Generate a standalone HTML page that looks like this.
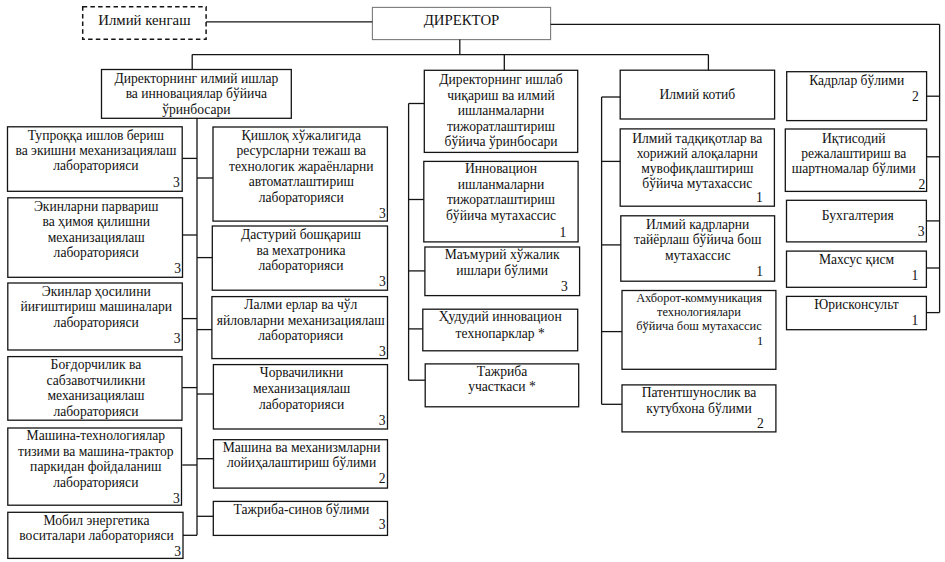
<!DOCTYPE html>
<html><head><meta charset="utf-8"><title>Org chart</title><style>
html,body{margin:0;padding:0;background:#fff;}
body{width:945px;height:562px;position:relative;overflow:hidden;font-family:"Liberation Serif",serif;color:#111;}
.t{position:absolute;width:240px;text-align:center;white-space:nowrap;}
.n{position:absolute;width:40px;text-align:right;white-space:nowrap;}
</style></head><body>
<svg width="945" height="562" viewBox="0 0 945 562" style="position:absolute;left:0;top:0">
<rect x="82.7" y="6.7" width="123.4" height="32.6" fill="none" stroke="#141414" stroke-width="1.5" stroke-dasharray="4.5 3.2"/>
<rect x="372.4" y="7.4" width="178.2" height="32.2" fill="none" stroke="#7a7a7a" stroke-width="1.1"/>
<rect x="101.5" y="69.5" width="189.8" height="48.8" fill="none" stroke="#141414" stroke-width="1.3"/>
<rect x="7.5" y="126.8" width="174.7" height="64.5" fill="none" stroke="#141414" stroke-width="1.3"/>
<rect x="7.8" y="197.8" width="174.7" height="79.5" fill="none" stroke="#141414" stroke-width="1.3"/>
<rect x="7.8" y="283.0" width="174.5" height="67.0" fill="none" stroke="#141414" stroke-width="1.3"/>
<rect x="7.8" y="356.6" width="174.2" height="63.6" fill="none" stroke="#141414" stroke-width="1.3"/>
<rect x="7.8" y="428.0" width="173.7" height="77.2" fill="none" stroke="#141414" stroke-width="1.3"/>
<rect x="7.8" y="512.3" width="175.2" height="46.1" fill="none" stroke="#141414" stroke-width="1.3"/>
<rect x="213.0" y="127.0" width="174.4" height="94.1" fill="none" stroke="#141414" stroke-width="1.3"/>
<rect x="212.3" y="226.0" width="175.2" height="64.2" fill="none" stroke="#141414" stroke-width="1.3"/>
<rect x="211.9" y="296.6" width="175.6" height="62.0" fill="none" stroke="#141414" stroke-width="1.3"/>
<rect x="213.4" y="364.6" width="174.1" height="64.4" fill="none" stroke="#141414" stroke-width="1.3"/>
<rect x="213.5" y="439.7" width="174.0" height="48.4" fill="none" stroke="#141414" stroke-width="1.3"/>
<rect x="213.3" y="501.4" width="174.2" height="34.0" fill="none" stroke="#141414" stroke-width="1.3"/>
<rect x="424.3" y="70.3" width="153.4" height="82.1" fill="none" stroke="#141414" stroke-width="1.3"/>
<rect x="423.8" y="161.4" width="154.3" height="80.5" fill="none" stroke="#141414" stroke-width="1.3"/>
<rect x="424.9" y="247.0" width="154.7" height="48.6" fill="none" stroke="#141414" stroke-width="1.3"/>
<rect x="422.8" y="309.2" width="154.9" height="41.6" fill="none" stroke="#141414" stroke-width="1.3"/>
<rect x="425.2" y="363.9" width="153.5" height="42.9" fill="none" stroke="#141414" stroke-width="1.3"/>
<rect x="620.2" y="70.2" width="154.4" height="48.8" fill="none" stroke="#141414" stroke-width="1.3"/>
<rect x="620.2" y="128.9" width="154.2" height="77.3" fill="none" stroke="#141414" stroke-width="1.3"/>
<rect x="620.8" y="215.8" width="153.8" height="65.4" fill="none" stroke="#141414" stroke-width="1.3"/>
<rect x="622.0" y="290.5" width="153.9" height="78.8" fill="none" stroke="#141414" stroke-width="1.3"/>
<rect x="622.0" y="384.9" width="153.9" height="47.0" fill="none" stroke="#141414" stroke-width="1.3"/>
<rect x="786.7" y="71.7" width="139.9" height="48.9" fill="none" stroke="#141414" stroke-width="1.3"/>
<rect x="785.3" y="129.0" width="141.3" height="62.4" fill="none" stroke="#141414" stroke-width="1.3"/>
<rect x="786.5" y="200.3" width="139.9" height="41.6" fill="none" stroke="#141414" stroke-width="1.3"/>
<rect x="786.5" y="251.1" width="139.9" height="36.2" fill="none" stroke="#141414" stroke-width="1.3"/>
<rect x="786.5" y="296.4" width="139.9" height="33.3" fill="none" stroke="#141414" stroke-width="1.3"/>
<line x1="206.1" y1="21.8" x2="372.4" y2="21.8" stroke="#141414" stroke-width="1.3"/>
<line x1="550.6" y1="24.3" x2="939.6" y2="24.3" stroke="#141414" stroke-width="1.3"/>
<line x1="939.6" y1="24.3" x2="939.6" y2="312.6" stroke="#141414" stroke-width="1.3"/>
<line x1="459.8" y1="39.6" x2="459.8" y2="54.6" stroke="#141414" stroke-width="1.3"/>
<line x1="192.2" y1="54.6" x2="708.4" y2="54.6" stroke="#141414" stroke-width="1.3"/>
<line x1="192.2" y1="54.6" x2="192.2" y2="69.5" stroke="#141414" stroke-width="1.3"/>
<line x1="504.3" y1="54.6" x2="504.3" y2="70.3" stroke="#141414" stroke-width="1.3"/>
<line x1="708.4" y1="54.6" x2="708.4" y2="70.2" stroke="#141414" stroke-width="1.3"/>
<line x1="197.0" y1="118.3" x2="197.0" y2="535.3" stroke="#141414" stroke-width="1.3"/>
<line x1="182.3" y1="158.4" x2="197.0" y2="158.4" stroke="#141414" stroke-width="1.3"/>
<line x1="182.3" y1="235.0" x2="197.0" y2="235.0" stroke="#141414" stroke-width="1.3"/>
<line x1="182.3" y1="318.6" x2="197.0" y2="318.6" stroke="#141414" stroke-width="1.3"/>
<line x1="182.3" y1="387.6" x2="197.0" y2="387.6" stroke="#141414" stroke-width="1.3"/>
<line x1="182.3" y1="465.0" x2="197.0" y2="465.0" stroke="#141414" stroke-width="1.3"/>
<line x1="183.0" y1="535.3" x2="197.0" y2="535.3" stroke="#141414" stroke-width="1.3"/>
<line x1="197.0" y1="178.0" x2="213.0" y2="178.0" stroke="#141414" stroke-width="1.3"/>
<line x1="197.0" y1="257.6" x2="212.3" y2="257.6" stroke="#141414" stroke-width="1.3"/>
<line x1="197.0" y1="329.6" x2="211.9" y2="329.6" stroke="#141414" stroke-width="1.3"/>
<line x1="197.0" y1="394.0" x2="213.4" y2="394.0" stroke="#141414" stroke-width="1.3"/>
<line x1="197.0" y1="458.7" x2="213.5" y2="458.7" stroke="#141414" stroke-width="1.3"/>
<line x1="197.0" y1="516.3" x2="213.3" y2="516.3" stroke="#141414" stroke-width="1.3"/>
<line x1="408.6" y1="103.5" x2="424.3" y2="103.5" stroke="#141414" stroke-width="1.3"/>
<line x1="408.6" y1="103.5" x2="408.6" y2="380.2" stroke="#141414" stroke-width="1.3"/>
<line x1="408.6" y1="199.5" x2="423.8" y2="199.5" stroke="#141414" stroke-width="1.3"/>
<line x1="408.6" y1="270.9" x2="424.9" y2="270.9" stroke="#141414" stroke-width="1.3"/>
<line x1="408.6" y1="328.9" x2="422.8" y2="328.9" stroke="#141414" stroke-width="1.3"/>
<line x1="408.6" y1="380.2" x2="425.2" y2="380.2" stroke="#141414" stroke-width="1.3"/>
<line x1="601.6" y1="97.0" x2="620.2" y2="97.0" stroke="#141414" stroke-width="1.3"/>
<line x1="601.6" y1="97.0" x2="601.6" y2="404.3" stroke="#141414" stroke-width="1.3"/>
<line x1="601.6" y1="161.4" x2="620.2" y2="161.4" stroke="#141414" stroke-width="1.3"/>
<line x1="601.6" y1="244.9" x2="620.8" y2="244.9" stroke="#141414" stroke-width="1.3"/>
<line x1="601.6" y1="331.6" x2="622.0" y2="331.6" stroke="#141414" stroke-width="1.3"/>
<line x1="601.6" y1="404.3" x2="622.0" y2="404.3" stroke="#141414" stroke-width="1.3"/>
<line x1="926.5" y1="96.2" x2="939.6" y2="96.2" stroke="#141414" stroke-width="1.3"/>
<line x1="926.5" y1="156.8" x2="939.6" y2="156.8" stroke="#141414" stroke-width="1.3"/>
<line x1="926.5" y1="220.9" x2="939.6" y2="220.9" stroke="#141414" stroke-width="1.3"/>
<line x1="926.5" y1="268.0" x2="939.6" y2="268.0" stroke="#141414" stroke-width="1.3"/>
<line x1="926.5" y1="312.6" x2="939.6" y2="312.6" stroke="#141414" stroke-width="1.3"/>
</svg>
<div class="t" style="left:24.4px;top:12.68px;font-size:14.8px;line-height:15.45px">Илмий кенгаш</div>
<div class="t" style="left:341.5px;top:13.18px;font-size:14.8px;line-height:15.45px">ДИРЕКТОР</div>
<div class="t" style="left:76.4px;top:71.34px;font-size:13.6px;line-height:15.15px">Директорнинг илмий ишлар<br>ва инновациялар бўйича<br>ўринбосари</div>
<div class="t" style="left:-24.1px;top:127.59px;font-size:13.6px;line-height:15.45px">Тупроққа ишлов бериш<br>ва экишни механизациялаш<br>лабораторияси</div>
<div class="n" style="left:139.8px;top:176.41px;font-size:13.6px;line-height:13.6px">3</div>
<div class="t" style="left:-23.8px;top:198.71px;font-size:13.6px;line-height:15.6px">Экинларни парвариш<br>ва ҳимоя қилишни<br>механизациялаш<br>лабораторияси</div>
<div class="n" style="left:141.0px;top:262.01px;font-size:13.6px;line-height:13.6px">3</div>
<div class="t" style="left:-23.8px;top:283.88px;font-size:13.6px;line-height:15.45px">Экинлар ҳосилини<br>йиғиштириш машиналари<br>лабораторияси</div>
<div class="n" style="left:140.5px;top:331.71px;font-size:13.6px;line-height:13.6px">3</div>
<div class="t" style="left:-24.0px;top:357.31px;font-size:13.6px;line-height:15.4px">Боғдорчилик ва<br>сабзавотчиликни<br>механизациялаш<br>лабораторияси</div>
<div class="t" style="left:-24.2px;top:428.31px;font-size:13.6px;line-height:15.4px">Машина-технологиялар<br>тизими ва машина-трактор<br>паркидан фойдаланиш<br>лабораторияси</div>
<div class="n" style="left:139.7px;top:491.91px;font-size:13.6px;line-height:13.6px">3</div>
<div class="t" style="left:-23.5px;top:512.61px;font-size:13.6px;line-height:15.6px">Мобил энергетика<br>воситалари лабораторияси</div>
<div class="n" style="left:141.0px;top:544.71px;font-size:13.6px;line-height:13.6px">3</div>
<div class="t" style="left:181.3px;top:127.66px;font-size:13.6px;line-height:15.5px">Қишлоқ хўжалигида<br>ресурсларни тежаш ва<br>технологик жараёнларни<br>автоматлаштириш<br>лабораторияси</div>
<div class="n" style="left:345.9px;top:207.21px;font-size:13.6px;line-height:13.6px">3</div>
<div class="t" style="left:181.0px;top:227.41px;font-size:13.6px;line-height:15.2px">Дастурий бошқариш<br>ва мехатроника<br>лабораторияси</div>
<div class="n" style="left:345.7px;top:275.21px;font-size:13.6px;line-height:13.6px">3</div>
<div class="t" style="left:180.8px;top:297.49px;font-size:13.6px;line-height:15.45px">Лалми ерлар ва чўл<br>яйловларни механизациялаш<br>лабораторияси</div>
<div class="n" style="left:345.7px;top:345.31px;font-size:13.6px;line-height:13.6px">3</div>
<div class="t" style="left:181.6px;top:365.31px;font-size:13.6px;line-height:15.8px">Чорвачиликни<br>механизациялаш<br>лабораторияси</div>
<div class="n" style="left:345.6px;top:414.41px;font-size:13.6px;line-height:13.6px">3</div>
<div class="t" style="left:181.6px;top:439.69px;font-size:13.6px;line-height:15.45px">Машина ва механизмларни<br>лойиҳалаштириш бўлими</div>
<div class="n" style="left:345.6px;top:472.21px;font-size:13.6px;line-height:13.6px">2</div>
<div class="t" style="left:181.5px;top:501.69px;font-size:13.6px;line-height:15.45px">Тажриба-синов бўлими</div>
<div class="n" style="left:345.6px;top:518.21px;font-size:13.6px;line-height:13.6px">3</div>
<div class="t" style="left:381.0px;top:72.11px;font-size:13.6px;line-height:15.6px">Директорнинг ишлаб<br>чиқариш ва илмий<br>ишланмаларни<br>тижоратлаштириш<br>бўйича ўринбосари</div>
<div class="t" style="left:381.0px;top:161.36px;font-size:13.6px;line-height:15.5px">Инновацион<br>ишланмаларни<br>тижоратлаштириш<br>бўйича мутахассис</div>
<div class="n" style="left:526.3px;top:226.31px;font-size:13.6px;line-height:13.6px">1</div>
<div class="t" style="left:382.2px;top:247.46px;font-size:13.6px;line-height:15.5px">Маъмурий хўжалик<br>ишлари бўлими</div>
<div class="n" style="left:527.8px;top:280.01px;font-size:13.6px;line-height:13.6px">3</div>
<div class="t" style="left:380.2px;top:309.31px;font-size:13.6px;line-height:16.2px">Ҳудудий инновацион<br>технопарклар *</div>
<div class="t" style="left:382.0px;top:363.91px;font-size:13.6px;line-height:15.4px">Тажриба<br>участкаси *</div>
<div class="t" style="left:577.4px;top:86.89px;font-size:13.6px;line-height:15.45px">Илмий котиб</div>
<div class="t" style="left:577.3px;top:130.81px;font-size:13.6px;line-height:15.2px">Илмий тадқиқотлар ва<br>хорижий алоқаларни<br>мувофиқлаштириш<br>бўйича мутахассис</div>
<div class="n" style="left:722.7px;top:191.21px;font-size:13.6px;line-height:13.6px">1</div>
<div class="t" style="left:577.7px;top:217.06px;font-size:13.6px;line-height:15.3px">Илмий кадрларни<br>тайёрлаш бўйича бош<br>мутахассис</div>
<div class="n" style="left:723.0px;top:265.41px;font-size:13.6px;line-height:13.6px">1</div>
<div class="t" style="left:579.0px;top:291.12px;font-size:12.4px;line-height:14.0px">Ахборот-коммуникация<br>технологиялари<br>бўйича бош мутахассис</div>
<div class="n" style="left:723.3px;top:335.22px;font-size:12.4px;line-height:12.4px">1</div>
<div class="t" style="left:579.0px;top:384.86px;font-size:13.6px;line-height:15.7px">Патентшунослик ва<br>кутубхона бўлими</div>
<div class="n" style="left:723.8px;top:417.41px;font-size:13.6px;line-height:13.6px">2</div>
<div class="t" style="left:736.7px;top:73.19px;font-size:13.6px;line-height:15.45px">Кадрлар бўлими</div>
<div class="n" style="left:878.8px;top:90.41px;font-size:13.6px;line-height:13.6px">2</div>
<div class="t" style="left:733.8px;top:130.61px;font-size:13.6px;line-height:15.2px">Иқтисодий<br>режалаштириш ва<br>шартномалар бўлими</div>
<div class="n" style="left:885.2px;top:177.81px;font-size:13.6px;line-height:13.6px">2</div>
<div class="t" style="left:737.8px;top:208.19px;font-size:13.6px;line-height:15.45px">Бухгалтерия</div>
<div class="n" style="left:884.6px;top:225.41px;font-size:13.6px;line-height:13.6px">3</div>
<div class="t" style="left:736.5px;top:251.78px;font-size:13.6px;line-height:15.45px">Махсус қисм</div>
<div class="n" style="left:878.4px;top:269.21px;font-size:13.6px;line-height:13.6px">1</div>
<div class="t" style="left:736.5px;top:297.38px;font-size:13.6px;line-height:15.45px">Юрисконсульт</div>
<div class="n" style="left:878.4px;top:314.11px;font-size:13.6px;line-height:13.6px">1</div>
</body></html>
